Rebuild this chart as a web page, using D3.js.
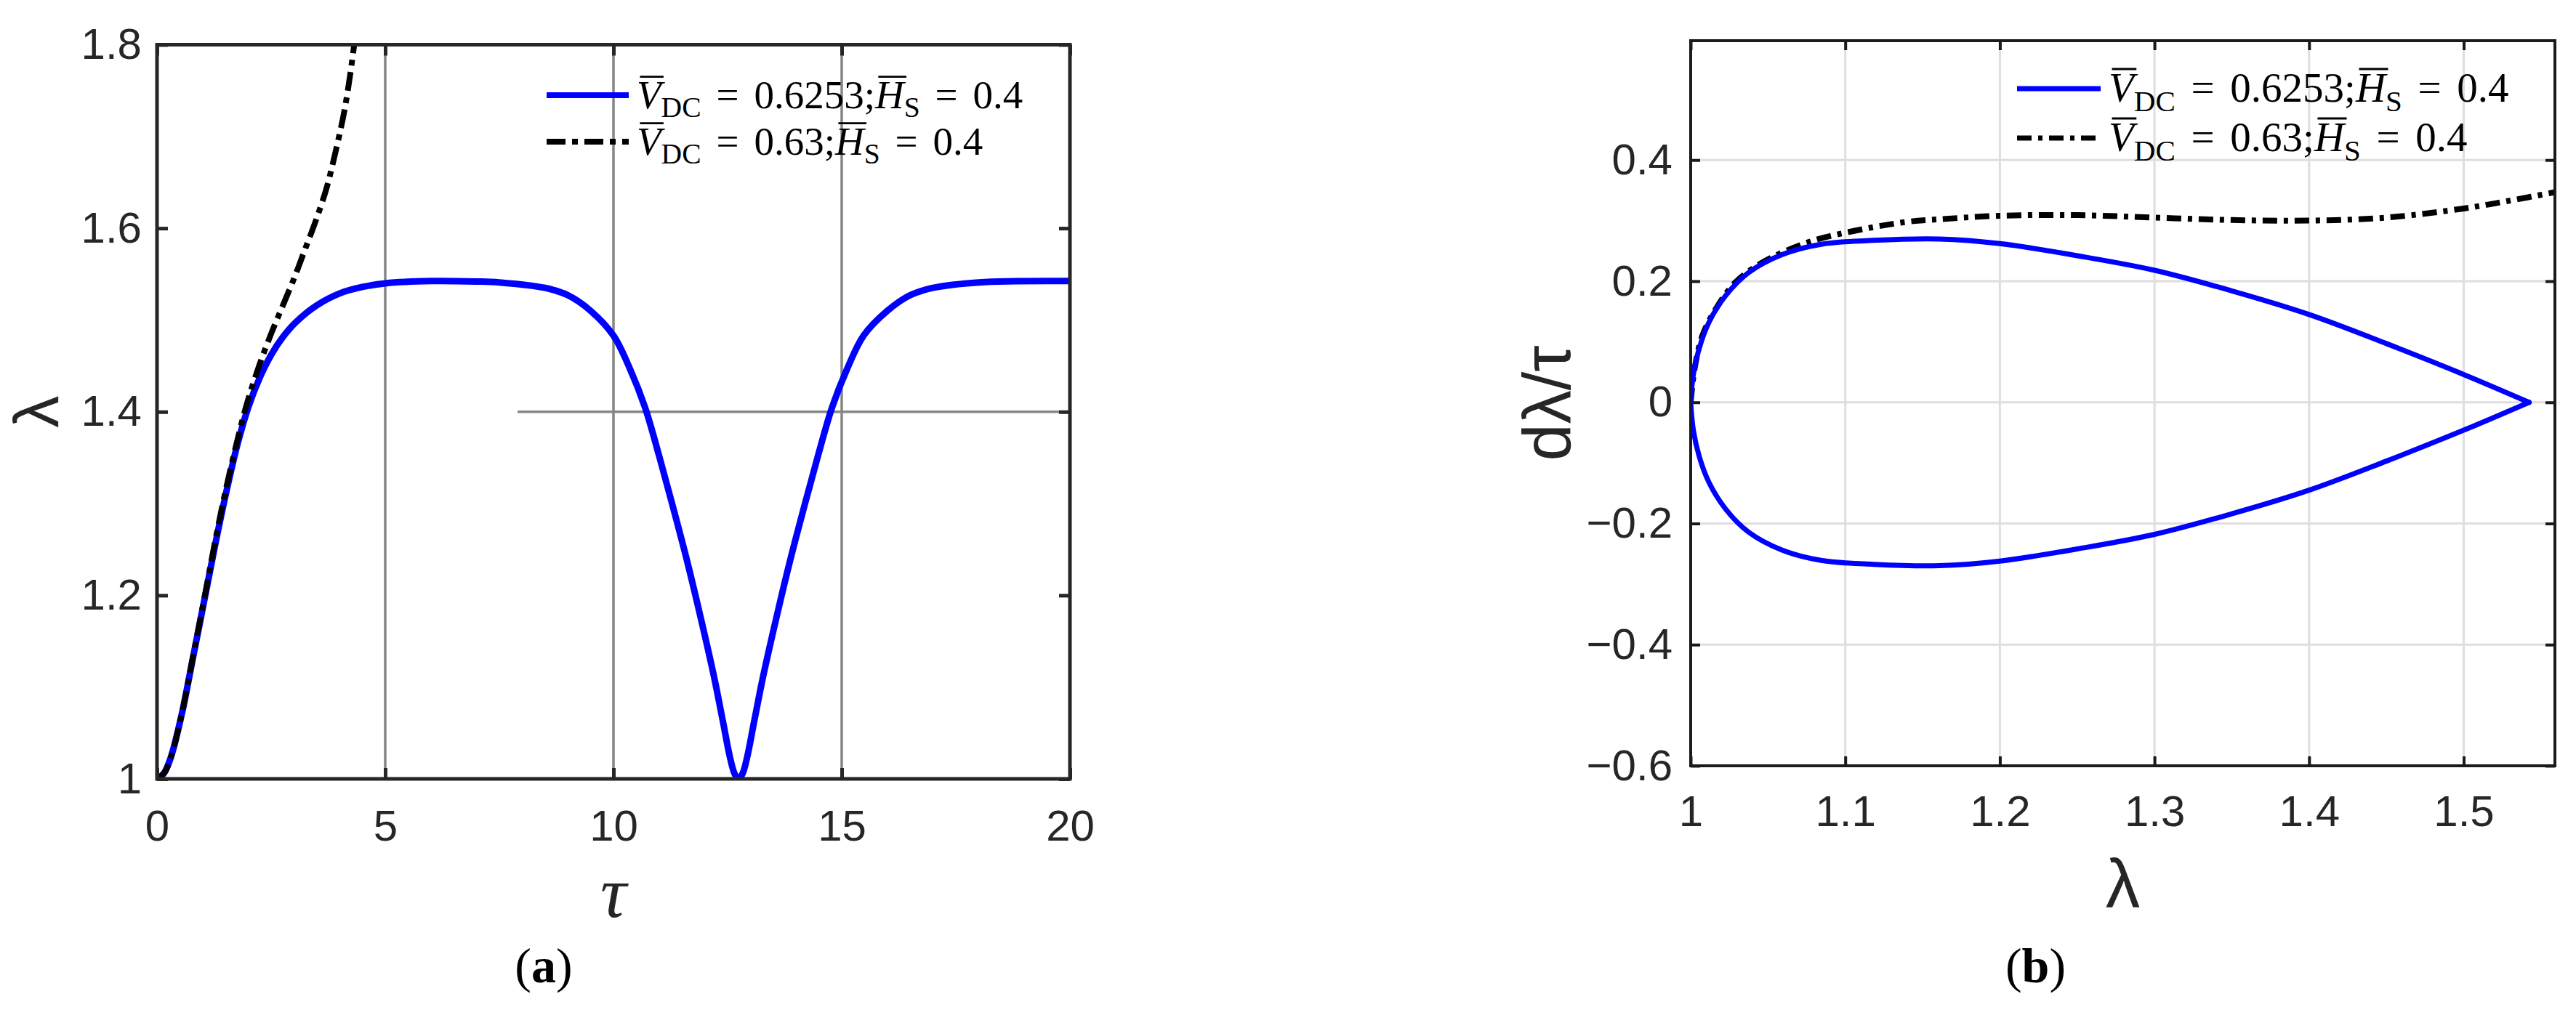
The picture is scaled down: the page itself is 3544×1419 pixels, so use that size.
<!DOCTYPE html>
<html lang="en">
<head>
<meta charset="UTF-8">
<title>lambda vs tau</title>
<script src="https://d3js.org/d3.v7.min.js"></script>
<style>
    body { margin: 0; background: #fff; }
    svg { display: block; background: #fff; }
    .ticks text { font-family: "Liberation Sans", Arial, sans-serif; fill: #262626; }
    .legend text { white-space: pre; }
</style>
</head>
<body>
<script>
    const width = 3544;
    const height = 1419;

    // ---- (a) lambda over tau ----
    const tauBlue = [0, 0.15, 0.3, 0.54, 0.78, 1.03, 1.27, 1.52, 1.76, 2.0, 2.25, 2.5, 2.75, 3.05, 3.5, 4.0, 4.5, 5.0, 6.0, 7.0,
                     7.5, 8.5, 9.0, 9.5, 10.0, 10.35, 10.69, 11.0, 11.3, 11.6, 11.9, 12.2, 12.4, 12.55, 12.65, 12.74,
                     12.83, 12.93, 13.08, 13.28, 13.58, 13.88, 14.18, 14.48, 14.79, 15.13, 15.48, 16.0, 16.5, 17.0, 18.0, 20.0];
    const lamBlue = [1.0, 1.006, 1.023, 1.07, 1.13, 1.193, 1.254, 1.313, 1.364, 1.405, 1.437, 1.462, 1.481, 1.498, 1.516, 1.529, 1.536, 1.54, 1.5425, 1.542,
                     1.541, 1.535, 1.527, 1.51, 1.483, 1.448, 1.405, 1.352, 1.297, 1.24, 1.178, 1.112, 1.062, 1.024, 1.006, 1.0,
                     1.006, 1.024, 1.062, 1.112, 1.178, 1.24, 1.297, 1.352, 1.405, 1.448, 1.483, 1.51, 1.527, 1.535, 1.541, 1.5425];

    const tauBlack = [0, 0.15, 0.3, 0.54, 0.78, 1.03, 1.27, 1.52, 1.84, 2.0, 2.25, 2.5, 2.75, 3.0, 3.22, 3.47, 3.71, 3.91, 4.12, 4.32, 4.42];
    const lamBlack = [1.0, 1.006, 1.023, 1.07, 1.131, 1.195, 1.258, 1.318, 1.385, 1.414, 1.452, 1.485, 1.515, 1.545, 1.574, 1.607, 1.643, 1.683, 1.732, 1.8, 1.845];

    const tauTicks = [0, 5, 10, 15, 20];
    const lamTicks = [1, 1.2, 1.4, 1.6, 1.8];
    const guideTaus = [5, 10, 15];
    const guideLam = 1.4;
    const guideLamFrom = 7.9;

    // ---- (b) phase plane, dlambda/tau over lambda ----
    const phLamUpper  = [1.0, 1.0017, 1.0055, 1.0119, 1.0226, 1.0374, 1.0587, 1.0843, 1.1183, 1.1609, 1.2, 1.25, 1.3, 1.35, 1.4, 1.45, 1.5, 1.5423];
    const phRateUpper = [0, 0.0457, 0.0891, 0.1326, 0.1761, 0.2141, 0.2435, 0.2609, 0.2674, 0.2696, 0.262, 0.242, 0.218, 0.184, 0.145, 0.097, 0.046, 0];
    const phLamLower  = [1.5423, 1.5, 1.45, 1.4, 1.35, 1.3, 1.25, 1.2, 1.1609, 1.1183, 1.0843, 1.0587, 1.0374, 1.0226, 1.0119, 1.0055, 1.0017, 1.0];
    const phRateLower = [0, -0.046, -0.097, -0.145, -0.184, -0.218, -0.242, -0.262, -0.2696, -0.2674, -0.2609, -0.2435, -0.2141, -0.1761, -0.1326, -0.0891, -0.0457, 0];

    const phLamBlack  = [1.0, 1.0026, 1.0077, 1.0162, 1.0289, 1.046, 1.0757, 1.1, 1.14, 1.16, 1.2, 1.25, 1.3, 1.35, 1.4, 1.45, 1.5, 1.53, 1.559];
    const phRateBlack = [0, 0.0565, 0.111, 0.154, 0.198, 0.2304, 0.264, 0.28, 0.298, 0.302, 0.308, 0.309, 0.305, 0.301, 0.3, 0.305, 0.32, 0.333, 0.347];

    const phLamTicks = [1, 1.1, 1.2, 1.3, 1.4, 1.5];
    const phRateTicks = [-0.6, -0.4, -0.2, 0, 0.2, 0.4];

    const legendVdc = ["0.6253", "0.63"];

    const svg = d3.select("body").append("svg")
        .attr("width", width).attr("height", height);
    svg.append("rect").attr("width", width).attr("height", height).attr("fill", "#fff");

    const zip = (xs, ys) => xs.map((v, i) => [v, ys[i]]);

    // ================= panel (a) =================
    const xA = d3.scaleLinear().domain([0, 20]).range([216, 1472]);
    const yA = d3.scaleLinear().domain([1, 1.8]).range([1072, 61.5]);
    const gA = svg.append("g");

    gA.append("clipPath").attr("id", "clipA").append("rect")
        .attr("x", xA(0)).attr("y", yA(1.8)).attr("width", xA(20) - xA(0)).attr("height", yA(1) - yA(1.8));

    // the grey guide lines
    gA.selectAll("line.vguide").data(guideTaus).enter().append("line")
        .attr("x1", d => xA(d)).attr("x2", d => xA(d))
        .attr("y1", yA(1)).attr("y2", yA(1.8))
        .attr("stroke", "#858585").attr("stroke-width", 3.5);
    gA.append("line")
        .attr("x1", xA(guideLamFrom)).attr("x2", xA(20))
        .attr("y1", yA(guideLam)).attr("y2", yA(guideLam))
        .attr("stroke", "#858585").attr("stroke-width", 3.5);

    const lineA = d3.line().x(d => xA(d[0])).y(d => yA(d[1])).curve(d3.curveCatmullRom.alpha(0.5));

    gA.append("path").datum(zip(tauBlue, lamBlue))
        .attr("clip-path", "url(#clipA)")
        .attr("d", lineA).attr("fill", "none").attr("stroke", "#0000ff").attr("stroke-width", 9);
    gA.append("path").datum(zip(tauBlack, lamBlack))
        .attr("clip-path", "url(#clipA)")
        .attr("d", lineA).attr("fill", "none").attr("stroke", "#000").attr("stroke-width", 8)
        .attr("stroke-dasharray", "26,9,8,9");

    // axes with inward ticks on all four sides
    const fmt = d => d3.format("")(d);
    gA.append("g").attr("class", "ticks").attr("transform", `translate(0,${yA(1)})`)
        .call(d3.axisBottom(xA).tickValues(tauTicks).tickSize(-15).tickPadding(42).tickFormat(fmt));
    gA.append("g").attr("class", "ticks").attr("transform", `translate(0,${yA(1.8)})`)
        .call(d3.axisTop(xA).tickValues(tauTicks).tickSize(-15).tickFormat(""));
    gA.append("g").attr("class", "ticks").attr("transform", `translate(${xA(0)},0)`)
        .call(d3.axisLeft(yA).tickValues(lamTicks).tickSize(-15).tickPadding(21).tickFormat(fmt));
    gA.append("g").attr("class", "ticks").attr("transform", `translate(${xA(20)},0)`)
        .call(d3.axisRight(yA).tickValues(lamTicks).tickSize(-15).tickFormat(""));
    gA.selectAll(".ticks .domain").remove();
    gA.selectAll(".ticks line").attr("stroke", "#262626").attr("stroke-width", 5);
    gA.selectAll(".ticks text").style("font-size", "60px");

    gA.append("rect")
        .attr("x", xA(0)).attr("y", yA(1.8)).attr("width", xA(20) - xA(0)).attr("height", yA(1) - yA(1.8))
        .attr("fill", "none").attr("stroke", "#262626").attr("stroke-width", 5);

    gA.append("text").text("λ")
        .attr("transform", `translate(80,${(yA(1) + yA(1.8)) / 2}) rotate(-90)`)
        .attr("text-anchor", "middle")
        .style("font-family", "'Liberation Sans', Arial, sans-serif").style("font-size", "88px").attr("fill", "#262626");
    gA.append("text").text("τ")
        .attr("x", (xA(0) + xA(20)) / 2).attr("y", 1262)
        .attr("text-anchor", "middle")
        .style("font-family", "'Liberation Serif', serif").style("font-style", "italic")
        .style("font-size", "100px").attr("fill", "#262626");

    // ================= panel (b) =================
    const xB = d3.scaleLinear().domain([1, 1.559]).range([2326, 3515]);
    const yB = d3.scaleLinear().domain([-0.6, 0.597]).range([1054, 56]);
    const gB = svg.append("g");

    gB.append("clipPath").attr("id", "clipB").append("rect")
        .attr("x", xB(1)).attr("y", yB(0.597)).attr("width", xB(1.559) - xB(1)).attr("height", yB(-0.6) - yB(0.597));

    gB.selectAll("line.vgrid").data(phLamTicks.slice(1)).enter().append("line")
        .attr("x1", d => xB(d)).attr("x2", d => xB(d))
        .attr("y1", yB(-0.6)).attr("y2", yB(0.597))
        .attr("stroke", "#dedede").attr("stroke-width", 3);
    gB.selectAll("line.hgrid").data(phRateTicks.slice(1)).enter().append("line")
        .attr("x1", xB(1)).attr("x2", xB(1.559))
        .attr("y1", d => yB(d)).attr("y2", d => yB(d))
        .attr("stroke", "#dedede").attr("stroke-width", 3);

    const lineB = d3.line().x(d => xB(d[0])).y(d => yB(d[1])).curve(d3.curveCatmullRom.alpha(0.5));

    gB.append("path").datum(zip(phLamBlack, phRateBlack))
        .attr("clip-path", "url(#clipB)")
        .attr("d", lineB).attr("fill", "none").attr("stroke", "#000").attr("stroke-width", 8)
        .attr("stroke-dasharray", "20,9,6,9");
    [zip(phLamUpper, phRateUpper), zip(phLamLower, phRateLower)].forEach(pts => {
        gB.append("path").datum(pts)
            .attr("clip-path", "url(#clipB)")
            .attr("d", lineB).attr("fill", "none").attr("stroke", "#0000ff").attr("stroke-width", 7)
            .attr("stroke-linejoin", "round").attr("stroke-linecap", "round");
    });

    gB.append("g").attr("class", "ticks").attr("transform", `translate(0,${yB(-0.6)})`)
        .call(d3.axisBottom(xB).tickValues(phLamTicks).tickSize(-13).tickPadding(40).tickFormat(fmt));
    gB.append("g").attr("class", "ticks").attr("transform", `translate(0,${yB(0.597)})`)
        .call(d3.axisTop(xB).tickValues(phLamTicks).tickSize(-13).tickFormat(""));
    gB.append("g").attr("class", "ticks").attr("transform", `translate(${xB(1)},0)`)
        .call(d3.axisLeft(yB).tickValues(phRateTicks).tickSize(-13).tickPadding(25).tickFormat(fmt));
    gB.append("g").attr("class", "ticks").attr("transform", `translate(${xB(1.559)},0)`)
        .call(d3.axisRight(yB).tickValues(phRateTicks).tickSize(-13).tickFormat(""));
    gB.selectAll(".ticks .domain").remove();
    gB.selectAll(".ticks line").attr("stroke", "#1a1a1a").attr("stroke-width", 4);
    gB.selectAll(".ticks text").style("font-size", "60px");

    gB.append("rect")
        .attr("x", xB(1)).attr("y", yB(0.597)).attr("width", xB(1.559) - xB(1)).attr("height", yB(-0.6) - yB(0.597))
        .attr("fill", "none").attr("stroke", "#1a1a1a").attr("stroke-width", 4);

    gB.append("text").text("λ")
        .attr("x", (xB(1) + xB(1.559)) / 2).attr("y", 1249)
        .attr("text-anchor", "middle")
        .style("font-family", "'Liberation Sans', Arial, sans-serif").style("font-size", "95px").attr("fill", "#262626");
    gB.append("text").text("dλ/τ")
        .attr("transform", `translate(2160,${(yB(-0.6) + yB(0.597)) / 2}) rotate(-90)`)
        .attr("text-anchor", "middle")
        .style("font-family", "'Liberation Sans', Arial, sans-serif").style("font-size", "92px").attr("fill", "#262626");

    // ================= legends =================
    function legendEntry(g, x, y, vdc, fs) {
        const sub = fs * 0.72, drop = fs * 0.22, gap = fs * 0.38;
        const t = g.append("text").attr("x", x).attr("y", y)
            .style("font-family", "'Liberation Serif', 'Times New Roman', serif")
            .style("font-size", fs + "px").attr("fill", "#000");
        t.append("tspan").style("font-style", "italic").text("V");
        t.append("tspan").style("font-size", sub + "px").attr("dy", drop).text("DC");
        t.append("tspan").attr("dy", -drop).attr("dx", gap).text("=");
        t.append("tspan").attr("dx", gap).text(vdc + ";");
        t.append("tspan").style("font-style", "italic").text("H");
        t.append("tspan").style("font-size", sub + "px").attr("dy", drop).text("S");
        t.append("tspan").attr("dy", -drop).attr("dx", gap).text("=");
        t.append("tspan").attr("dx", gap).text("0.4");
        const node = t.node();
        const hIdx = 4 + (vdc + ";").length;
        [0, hIdx].forEach(i => {
            const box = node.getExtentOfChar(i);
            g.append("line")
                .attr("x1", box.x + fs * 0.08).attr("x2", box.x + box.width + fs * 0.06)
                .attr("y1", y - fs * 0.79).attr("y2", y - fs * 0.79)
                .attr("stroke", "#000").attr("stroke-width", fs * 0.05);
        });
    }

    function drawLegend(g, x0, x1, rows, fs, lineW, dash) {
        const lg = g.append("g").attr("class", "legend");
        rows.forEach((ry, i) => {
            lg.append("line").attr("x1", x0).attr("x2", x1).attr("y1", ry).attr("y2", ry)
                .attr("stroke", i === 0 ? "#0000ff" : "#000").attr("stroke-width", lineW)
                .attr("stroke-dasharray", i === 0 ? null : dash);
            legendEntry(lg, x1 + 11, ry + 18, legendVdc[i], fs);
        });
    }

    drawLegend(gA, 752, 865, [131, 195], 55, 8, "26,9,8,9");
    drawLegend(gB, 2775, 2890, [122, 190], 57, 7, "20,9,6,9");

    // panel captions
    [[(xA(0) + xA(20)) / 2 - 96, "a"], [(xB(1) + xB(1.559)) / 2 - 120, "b"]].forEach(([cx, letter]) => {
        const t = svg.append("text").attr("x", cx).attr("y", 1352).attr("text-anchor", "middle")
            .style("font-family", "'Liberation Serif', 'Times New Roman', serif").style("font-size", "68px").attr("fill", "#000");
        t.append("tspan").text("(");
        t.append("tspan").style("font-weight", "bold").text(letter);
        t.append("tspan").text(")");
    });
</script>
</body>
</html>
